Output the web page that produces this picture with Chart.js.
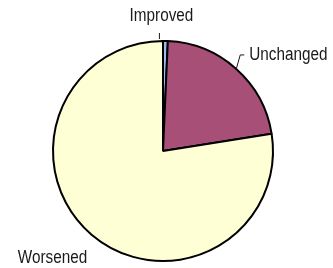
<!DOCTYPE html>
<html>
<head>
<meta charset="utf-8">
<script src="https://cdn.jsdelivr.net/npm/chart.js@4"></script>
<style>
  html, body { margin: 0; padding: 0; background: #fff; }
  #wrap { width: 333px; height: 268px; }
</style>
</head>
<body>
<div id="wrap"><canvas id="chart" width="333" height="268"></canvas></div>
<script>
// Pie chart data
const categories = ['Improved', 'Unchanged', 'Worsened'];
const shares = [0.7, 21.8, 77.5];
const sliceColors = ['#9db9f0', '#a84f78', '#ffffd6'];

// label placement, relative to the slice's outer edge at its middle angle
const labelStyle = [
  { leader: [[-6, -2], [-6, -8]], text: [-4, -25], align: 'center' },
  { leader: [[0, 0], [4, -14], [8, -14]], text: [13, -14], align: 'left' },
  { leader: null, text: [-39, 23], align: 'center' },
];

// draw the outside labels with small leader lines
const outsideLabels = {
  id: 'outsideLabels',
  afterDatasetsDraw(chart) {
    const ctx = chart.ctx;
    const arcs = chart.getDatasetMeta(0).data;
    ctx.save();
    ctx.font = '18px "Liberation Sans", Arial, sans-serif';
    ctx.fillStyle = '#1a1a1a';
    ctx.strokeStyle = '#1a1a1a';
    ctx.lineWidth = 1;
    ctx.textBaseline = 'middle';
    arcs.forEach((arc, i) => {
      const p = arc.getProps(['x', 'y', 'startAngle', 'endAngle', 'outerRadius'], true);
      const mid = (p.startAngle + p.endAngle) / 2;
      const ax = p.x + Math.cos(mid) * p.outerRadius;
      const ay = p.y + Math.sin(mid) * p.outerRadius;
      const st = labelStyle[i];
      if (st.leader) {
        ctx.beginPath();
        st.leader.forEach((pt, k) => {
          if (k === 0) ctx.moveTo(ax + pt[0], ay + pt[1]);
          else ctx.lineTo(ax + pt[0], ay + pt[1]);
        });
        ctx.stroke();
      }
      // the original labels use a narrow face, so squeeze the text a bit
      ctx.save();
      ctx.translate(ax + st.text[0], ay + st.text[1]);
      ctx.scale(0.85, 1);
      ctx.textAlign = st.align;
      ctx.fillText(categories[i], 0, 0);
      ctx.restore();
    });
    ctx.restore();
  }
};

const ctx = document.getElementById('chart').getContext('2d');
new Chart(ctx, {
  type: 'pie',
  data: {
    labels: categories,
    datasets: [{
      data: shares,
      backgroundColor: sliceColors,
      borderColor: '#000',
      borderWidth: 2,
    }],
  },
  options: {
    responsive: false,
    animation: false,
    layout: { padding: { top: 40, bottom: 6, left: 52, right: 59 } },
    plugins: {
      legend: { display: false },
      tooltip: { enabled: false },
    },
  },
  plugins: [outsideLabels],
});
</script>
</body>
</html>
